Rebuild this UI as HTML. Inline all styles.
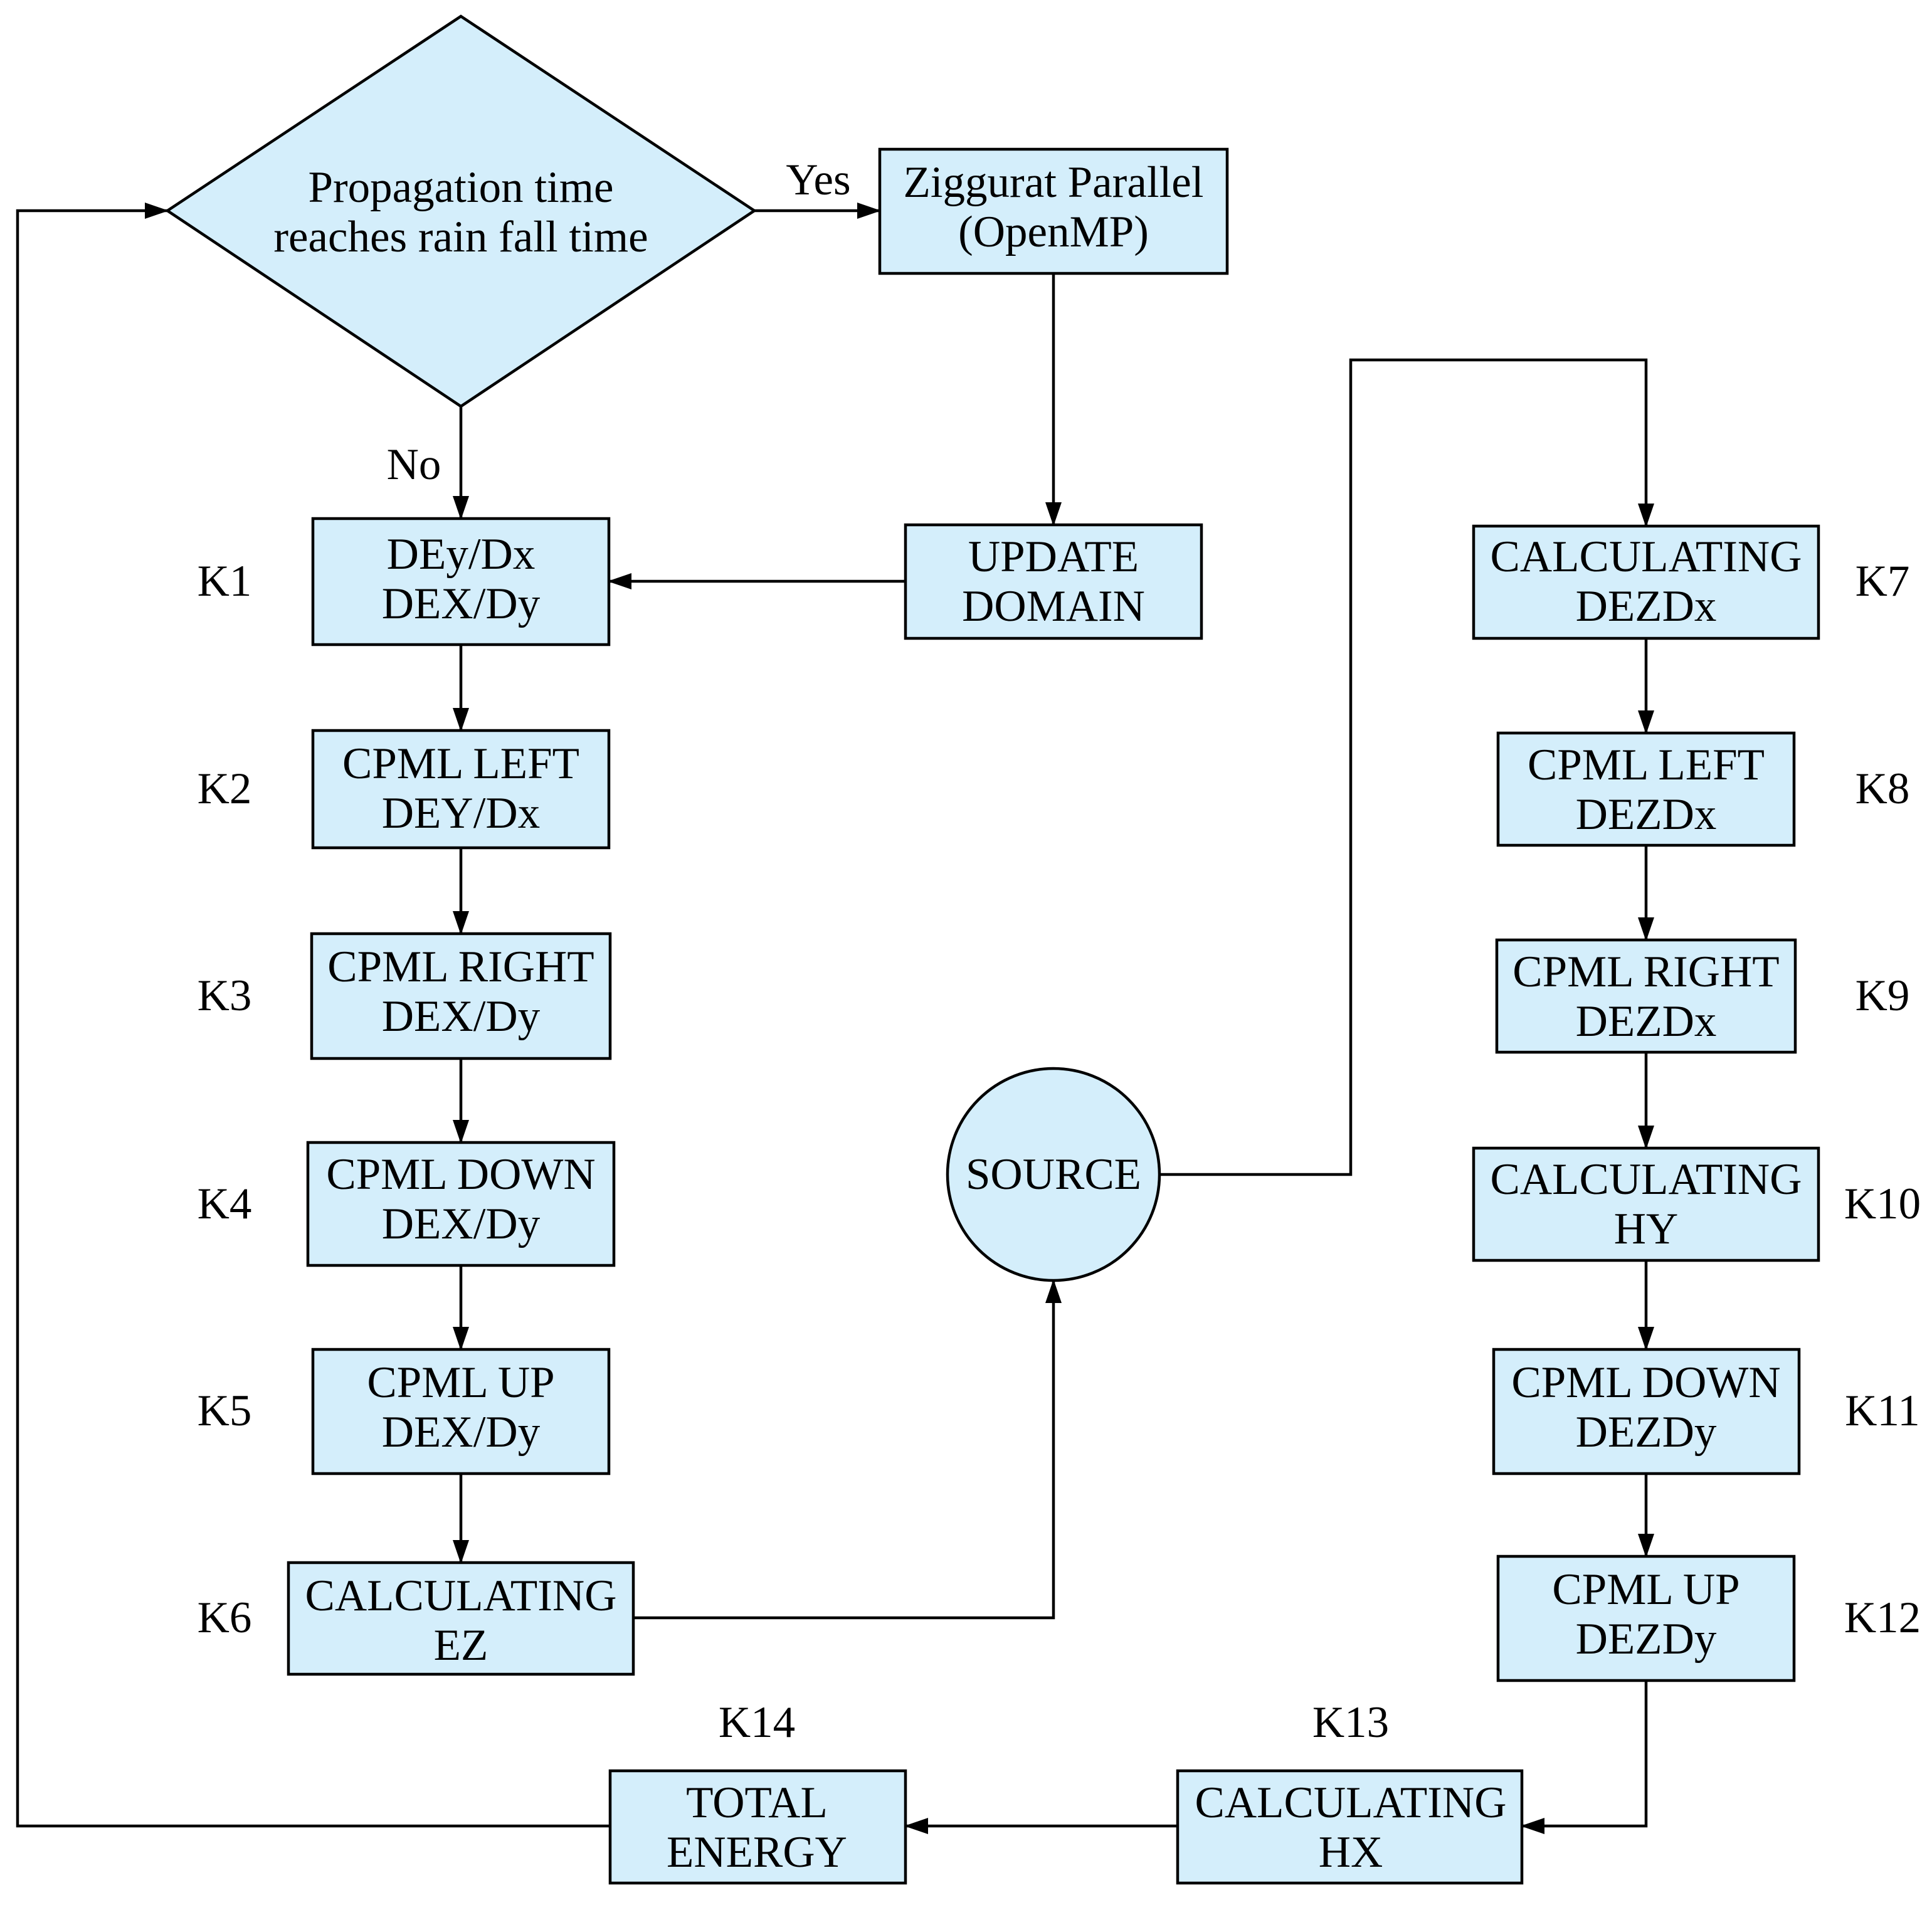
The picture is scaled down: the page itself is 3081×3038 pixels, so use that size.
<!DOCTYPE html>
<html><head><meta charset="utf-8"><style>
html,body{margin:0;padding:0;background:#fff}
svg{display:block}
text{font-family:"Liberation Serif",serif;font-size:71px;fill:#000;text-anchor:middle;dominant-baseline:central}
.b{fill:#d4eefb;stroke:#000;stroke-width:4.5}
.l{fill:none;stroke:#000;stroke-width:4.5}
</style></head><body>
<svg width="3081" height="3038" viewBox="0 0 3081 3038" xmlns="http://www.w3.org/2000/svg">
<defs><marker id="a" markerWidth="38" markerHeight="26" refX="36" refY="13" orient="auto" markerUnits="userSpaceOnUse"><path d="M0,0 L38,13 L0,26 Z" fill="#000"/></marker></defs>

<polygon class="b" points="735,26 1203,336 735,648 267,336"/>
<text x="735" y="299">Propagation time</text>
<text x="735" y="378">reaches rain fall time</text>

<rect class="b" x="1403" y="238" width="554" height="198"/>
<text x="1680" y="291">Ziggurat Parallel</text>
<text x="1680" y="370">(OpenMP)</text>
<text x="1305" y="287">Yes</text>
<text x="660" y="741">No</text>

<rect class="b" x="1444" y="837" width="472" height="181"/>
<text x="1680" y="888">UPDATE</text>
<text x="1680" y="967">DOMAIN</text>

<rect class="b" x="499" y="827" width="472" height="201"/>
<text x="735" y="884">DEy/Dx</text><text x="735" y="963">DEX/Dy</text>
<rect class="b" x="499" y="1165" width="472" height="187"/>
<text x="735" y="1218">CPML LEFT</text><text x="735" y="1297">DEY/Dx</text>
<rect class="b" x="497" y="1489" width="476" height="199"/>
<text x="735" y="1542">CPML RIGHT</text><text x="735" y="1621">DEX/Dy</text>
<rect class="b" x="491" y="1822" width="488" height="196"/>
<text x="735" y="1873">CPML DOWN</text><text x="735" y="1952">DEX/Dy</text>
<rect class="b" x="499" y="2152" width="472" height="198"/>
<text x="735" y="2205">CPML UP</text><text x="735" y="2284">DEX/Dy</text>
<rect class="b" x="460" y="2492" width="550" height="178"/>
<text x="735" y="2545">CALCULATING</text><text x="735" y="2624">EZ</text>

<text x="358" y="927">K1</text><text x="358" y="1258">K2</text><text x="358" y="1588">K3</text>
<text x="358" y="1920">K4</text><text x="358" y="2250">K5</text><text x="358" y="2580">K6</text>

<circle class="b" cx="1680" cy="1873" r="169"/>
<text x="1680" y="1873">SOURCE</text>

<rect class="b" x="2350" y="839" width="550" height="179"/>
<text x="2625" y="888">CALCULATING</text><text x="2625" y="967">DEZDx</text>
<rect class="b" x="2389" y="1169" width="472" height="179"/>
<text x="2625" y="1220">CPML LEFT</text><text x="2625" y="1299">DEZDx</text>
<rect class="b" x="2387" y="1499" width="476" height="179"/>
<text x="2625" y="1550">CPML RIGHT</text><text x="2625" y="1629">DEZDx</text>
<rect class="b" x="2350" y="1831" width="550" height="179"/>
<text x="2625" y="1881">CALCULATING</text><text x="2625" y="1960">HY</text>
<rect class="b" x="2382" y="2152" width="487" height="198"/>
<text x="2625" y="2205">CPML DOWN</text><text x="2625" y="2284">DEZDy</text>
<rect class="b" x="2389" y="2482" width="472" height="198"/>
<text x="2625" y="2535">CPML UP</text><text x="2625" y="2614">DEZDy</text>

<text x="3002" y="927">K7</text><text x="3002" y="1258">K8</text><text x="3002" y="1588">K9</text>
<text x="3002" y="1920">K10</text><text x="3002" y="2250">K11</text><text x="3002" y="2580">K12</text>

<rect class="b" x="1878" y="2824" width="549" height="179"/>
<text x="2154" y="2875">CALCULATING</text><text x="2154" y="2954">HX</text>
<text x="2154" y="2747">K13</text>
<rect class="b" x="973" y="2824" width="471" height="179"/>
<text x="1207" y="2875">TOTAL</text><text x="1207" y="2954">ENERGY</text>
<text x="1207" y="2747">K14</text>

<line class="l" x1="1203" y1="336" x2="1403" y2="336" marker-end="url(#a)"/>
<line class="l" x1="1680" y1="436" x2="1680" y2="837" marker-end="url(#a)"/>
<line class="l" x1="1444" y1="927" x2="971" y2="927" marker-end="url(#a)"/>
<line class="l" x1="735" y1="648" x2="735" y2="827" marker-end="url(#a)"/>
<line class="l" x1="735" y1="1028" x2="735" y2="1165" marker-end="url(#a)"/>
<line class="l" x1="735" y1="1352" x2="735" y2="1489" marker-end="url(#a)"/>
<line class="l" x1="735" y1="1688" x2="735" y2="1822" marker-end="url(#a)"/>
<line class="l" x1="735" y1="2018" x2="735" y2="2152" marker-end="url(#a)"/>
<line class="l" x1="735" y1="2350" x2="735" y2="2492" marker-end="url(#a)"/>
<polyline class="l" points="1010,2580 1680,2580 1680,2042" marker-end="url(#a)"/>
<polyline class="l" points="1849,1873 2154,1873 2154,574 2625,574 2625,839" marker-end="url(#a)"/>
<line class="l" x1="2625" y1="1018" x2="2625" y2="1169" marker-end="url(#a)"/>
<line class="l" x1="2625" y1="1348" x2="2625" y2="1499" marker-end="url(#a)"/>
<line class="l" x1="2625" y1="1678" x2="2625" y2="1831" marker-end="url(#a)"/>
<line class="l" x1="2625" y1="2010" x2="2625" y2="2152" marker-end="url(#a)"/>
<line class="l" x1="2625" y1="2350" x2="2625" y2="2482" marker-end="url(#a)"/>
<polyline class="l" points="2625,2680 2625,2912 2427,2912" marker-end="url(#a)"/>
<line class="l" x1="1878" y1="2912" x2="1444" y2="2912" marker-end="url(#a)"/>
<polyline class="l" points="973,2912 28,2912 28,336 267,336" marker-end="url(#a)"/>
</svg>
</body></html>
